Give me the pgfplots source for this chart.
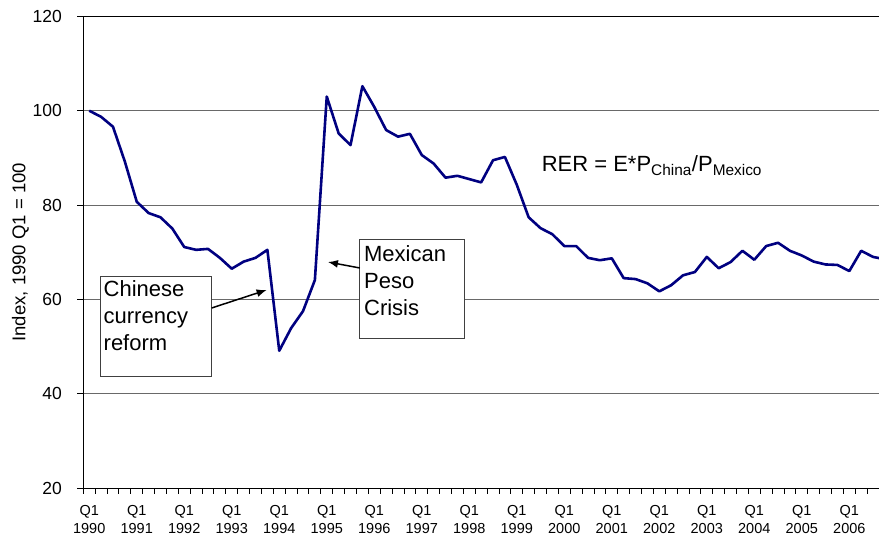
\documentclass[border=0pt]{standalone}
\usepackage{fontspec}
\setmainfont{Liberation Sans}
\usepackage{pgfplots}
\pgfplotsset{compat=1.18}
\usepackage{pgfplotstable}
\usetikzlibrary{arrows.meta}

\definecolor{rerline}{RGB}{0,0,128}
\definecolor{gridgray}{RGB}{105,105,105}

% Real exchange rate index, quarterly, 1990 Q1 = 100 (index 0 = 1990 Q1)
\pgfplotstableread{
q   rer
0   100.0
1   98.7
2   96.6
3   89.2
4   80.7
5   78.3
6   77.4
7   75.0
8   71.1
9   70.5
10  70.7
11  68.8
12  66.5
13  68.0
14  68.8
15  70.5
16  49.1
17  53.9
18  57.5
19  64.1
20  103.0
21  95.2
22  92.7
23  105.2
24  100.8
25  95.9
26  94.5
27  95.1
28  90.6
29  88.8
30  85.8
31  86.2
32  85.5
33  84.8
34  89.5
35  90.2
36  84.3
37  77.4
38  75.1
39  73.8
40  71.3
41  71.3
42  68.8
43  68.3
44  68.7
45  64.5
46  64.3
47  63.4
48  61.7
49  63.0
50  65.1
51  65.8
52  69.0
53  66.6
54  67.9
55  70.3
56  68.4
57  71.3
58  72.0
59  70.3
60  69.3
61  68.0
62  67.4
63  67.3
64  66.0
65  70.3
66  69.0
67  68.5
}\rerdata

\begin{document}
\begin{tikzpicture}
\useasboundingbox (0,0) rectangle (879bp,536bp);
\begin{axis}[
  at={(83.3bp,48bp)}, anchor=south west,
  scale only axis,
  width=795.7bp, height=471.6bp,
  xmin=-0.5, xmax=66.5,
  ymin=20, ymax=120,
  axis x line*=bottom, axis y line*=left,
  axis line style={black, line width=0.9bp},
  tick align=outside,
  ytick={20,40,...,120},
  ymajorgrids,
  grid style={gridgray, line width=0.9bp},
  major tick length=6bp,
  tick style={black, line width=0.9bp},
  xtick={-0.5,0.5,...,66.5},
  xticklabels={},
  extra x ticks={0,4,...,64},
  extra x tick labels={Q1\\1990,Q1\\1991,Q1\\1992,Q1\\1993,Q1\\1994,Q1\\1995,Q1\\1996,Q1\\1997,Q1\\1998,Q1\\1999,Q1\\2000,Q1\\2001,Q1\\2002,Q1\\2003,Q1\\2004,Q1\\2005,Q1\\2006},
  extra x tick style={major tick length=0pt, xticklabel style={anchor=north, inner sep=0pt, yshift=-17bp, align=center, font=\fontsize{14.5bp}{18bp}\selectfont}},
  yticklabel style={anchor=east, inner sep=0pt, xshift=-15.3bp, font=\fontsize{17.5bp}{20bp}\selectfont},
  /pgf/number format/assume math mode=true,
  ylabel={Index, 1990 Q1 = 100},
  ylabel style={at={(axis description cs:-0.0789,0.5)}, anchor=center, rotate=0, font=\fontsize{18.5bp}{20bp}\selectfont},
  clip mode=individual,
]
\draw[black, line width=0.9bp] (axis cs:-0.5,120) -- (axis cs:66.5,120);
\addplot[rerline, line width=2.6bp, line join=round, mark=none] table[x=q, y=rer] {\rerdata};

% annotation: Chinese currency reform (node anchored on the baseline of its last line)
\draw[black!75, line width=0.9bp, fill=white] (axis cs:0.906,64.95) rectangle (axis cs:10.33,43.75);
\node[anchor=base west, inner sep=0pt, align=left, font=\fontsize{22bp}{26.7bp}\selectfont]
  at (axis cs:1.20,49.26) {Chinese\\currency\\reform};
\draw[black, line width=1.5bp, -{Latex[length=10bp,width=8bp]}] (axis cs:10.31,58.17) -- (axis cs:14.94,61.99);

% annotation: Mexican peso crisis
\draw[black!75, line width=0.9bp, fill=white] (axis cs:22.79,72.8) rectangle (axis cs:31.63,51.81);
\node[anchor=base west, inner sep=0pt, align=left, font=\fontsize{22bp}{26.7bp}\selectfont]
  at (axis cs:23.13,56.68) {Mexican\\Peso\\Crisis};
\draw[black, line width=1.5bp, -{Latex[length=10bp,width=8bp]}] (axis cs:22.79,66.65) -- (axis cs:20.10,67.92);

% definition of the real exchange rate
\node[anchor=base west, inner sep=0pt, font=\fontsize{22bp}{26bp}\selectfont]
  at (axis cs:38.09,87.07) {RER = E*P\textsubscript{China}/P\textsubscript{Mexico}};
\end{axis}
\end{tikzpicture}
\end{document}
